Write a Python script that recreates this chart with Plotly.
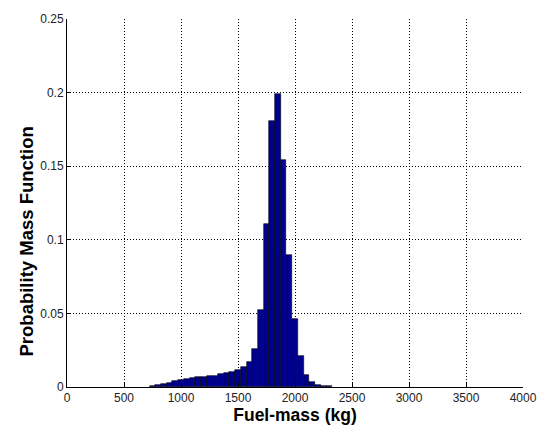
import plotly.graph_objects as go

# bin centres (kg) and probability mass per bin
bin_centers = [750, 800, 850, 900, 950, 1000, 1050, 1100, 1150, 1200,
               1250, 1300, 1350, 1400, 1450, 1500, 1550, 1600, 1650, 1700,
               1750, 1800, 1850, 1900, 1950, 2000, 2050, 2100, 2150, 2200,
               2250, 2300]
pmf = [0.0007, 0.0012, 0.0020, 0.0030, 0.0040, 0.0048, 0.0055, 0.0060, 0.0065, 0.0070,
       0.0073, 0.0078, 0.0085, 0.0093, 0.0103, 0.0115, 0.0135, 0.0170, 0.0260, 0.0520,
       0.1110, 0.1810, 0.1990, 0.1540, 0.0900, 0.0460, 0.0210, 0.0080, 0.0036, 0.0016,
       0.0009, 0.0004]
bin_width = 50

x_ticks = [0, 500, 1000, 1500, 2000, 2500, 3000, 3500, 4000]
y_ticks = [0, 0.05, 0.1, 0.15, 0.2, 0.25]
y_tick_labels = ["0", "0.05", "0.1", "0.15", "0.2", "0.25"]

fig = go.Figure(go.Bar(
    x=bin_centers, y=pmf, width=bin_width,
    marker=dict(color="#00008F", line=dict(color="black", width=0.6)),
))

axis_common = dict(
    showline=True, linecolor="black", linewidth=1,
    ticks="inside", ticklen=4, tickcolor="black",
    showgrid=True, gridcolor="black", gridwidth=1, griddash="1px,2px",
    zeroline=False, mirror=False,
    tickfont=dict(family="Liberation Sans, Arial, sans-serif", size=12, color="#222"),
)

fig.update_layout(
    width=549, height=433,
    margin=dict(l=67, r=14, t=17, b=46),
    paper_bgcolor="white", plot_bgcolor="white",
    showlegend=False, bargap=0,
    xaxis=dict(range=[0, 4000], tickvals=x_ticks, ticktext=[str(v) for v in x_ticks],
               title=dict(text="<b>Fuel-mass (kg)</b>", standoff=3,
                          font=dict(family="Liberation Sans, Arial, sans-serif", size=17.5, color="black")),
               **axis_common),
    yaxis=dict(range=[0, 0.25], tickvals=y_ticks, ticktext=y_tick_labels, **axis_common),
    annotations=[dict(
        text="<b>Probability Mass Function</b>", textangle=-90,
        xref="paper", yref="paper", x=-0.088, y=0.395,
        xanchor="center", yanchor="middle", showarrow=False,
        font=dict(family="Liberation Sans, Arial, sans-serif", size=18.5, color="black"),
    )],
)

fig.write_html("out.html")
